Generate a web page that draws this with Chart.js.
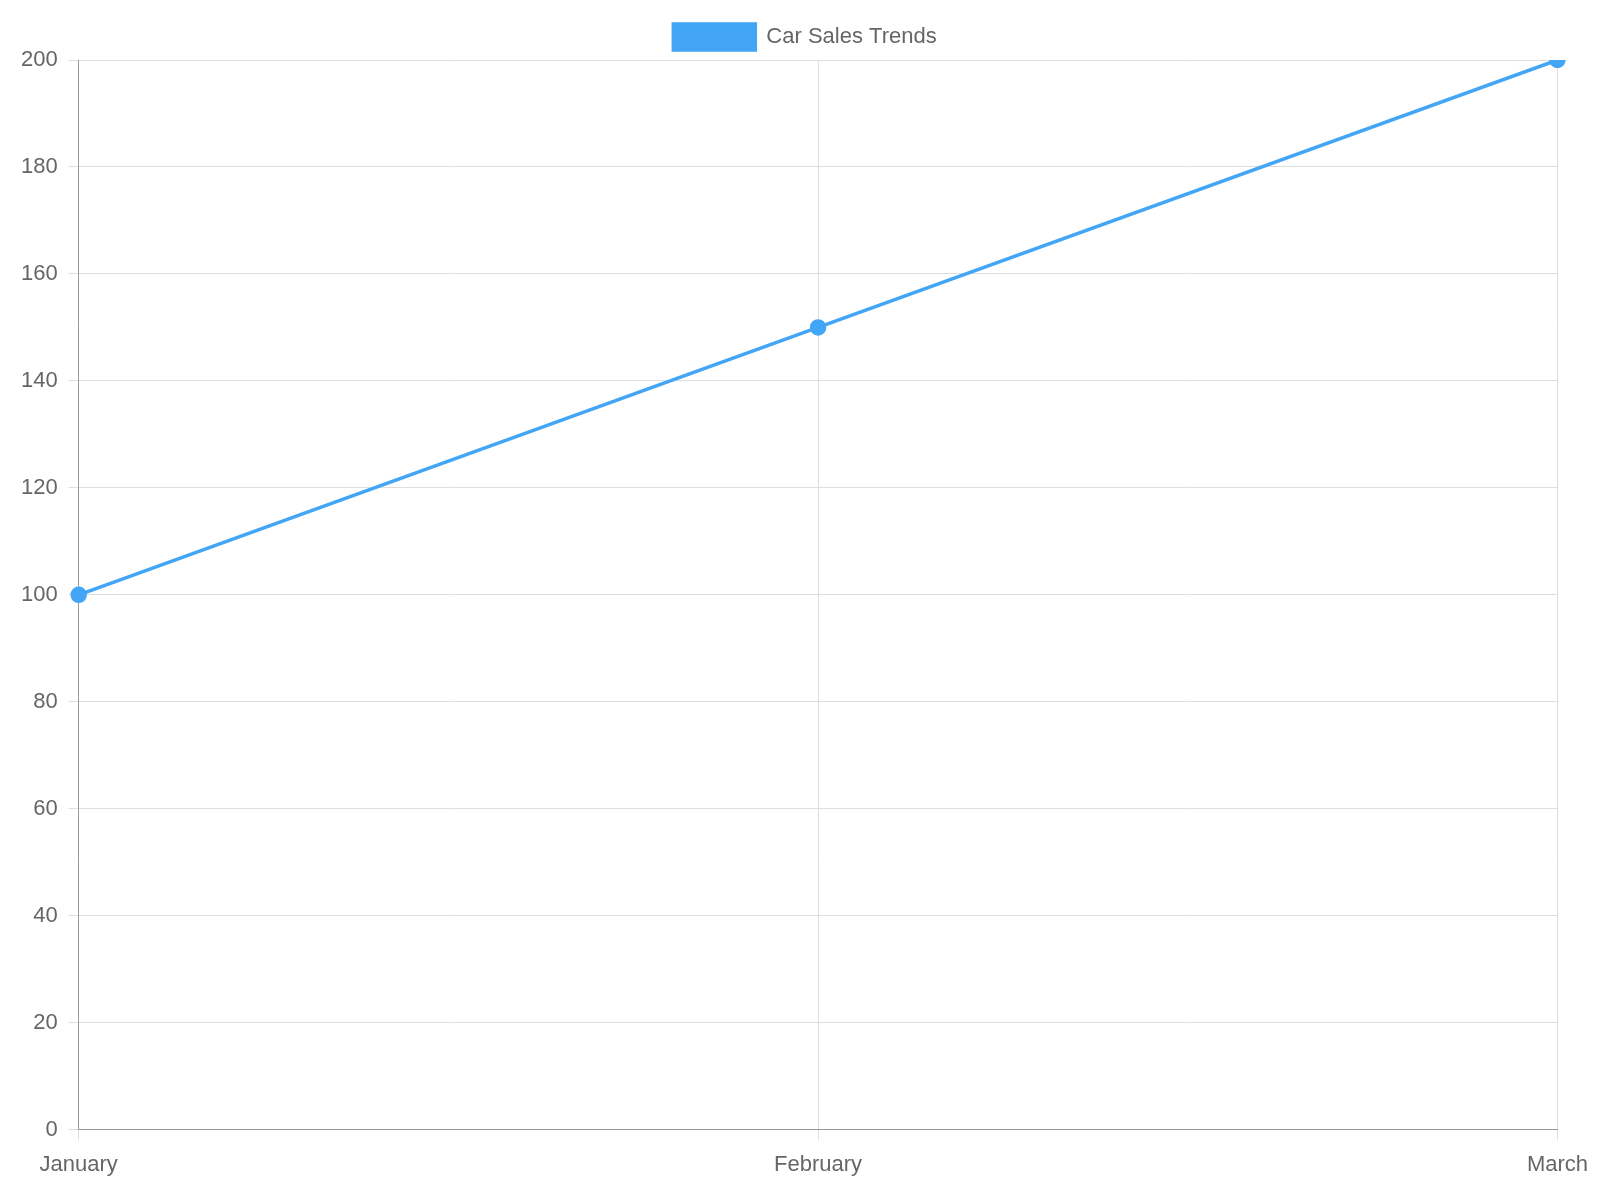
<!DOCTYPE html>
<html>
<head>
<meta charset="utf-8">
<script src="https://cdn.jsdelivr.net/npm/chart.js@4"></script>
<style>
  html, body { margin: 0; padding: 0; background: #fff; }
  #wrap { width: 1600px; height: 1190px; }
</style>
</head>
<body>
<div id="wrap"><canvas id="salesChart"></canvas></div>
<script>
const months = ['January', 'February', 'March'];
const sales = [100, 150, 200];

Chart.defaults.font.family = '"Liberation Sans", Arial, sans-serif';
Chart.defaults.font.size = 22;
Chart.defaults.color = '#666';

const ctx = document.getElementById('salesChart').getContext('2d');
new Chart(ctx, {
  type: 'line',
  data: {
    labels: months,
    datasets: [{
      label: 'Car Sales Trends',
      data: sales,
      borderColor: '#42a5f5',
      backgroundColor: '#42a5f5',
      borderWidth: 3.5,
      pointRadius: 6.5,
      tension: 0
    }]
  },
  options: {
    responsive: true,
    maintainAspectRatio: false,
    animation: false,
    layout: { padding: { top: 10, left: 10, right: 0, bottom: 0 } },
    plugins: {
      legend: { labels: { boxWidth: 82, boxHeight: 26, padding: 14 } }
    },
    scales: {
      x: {
        ticks: { padding: 12 },
        grid: { color: '#dedede', tickLength: 10 },
        border: { color: '#999' }
      },
      y: {
        min: 0, max: 200,
        ticks: { stepSize: 20, padding: 11 },
        grid: { color: '#dedede', tickLength: 10 },
        border: { color: '#999' }
      }
    }
  }
});
</script>
</body>
</html>
